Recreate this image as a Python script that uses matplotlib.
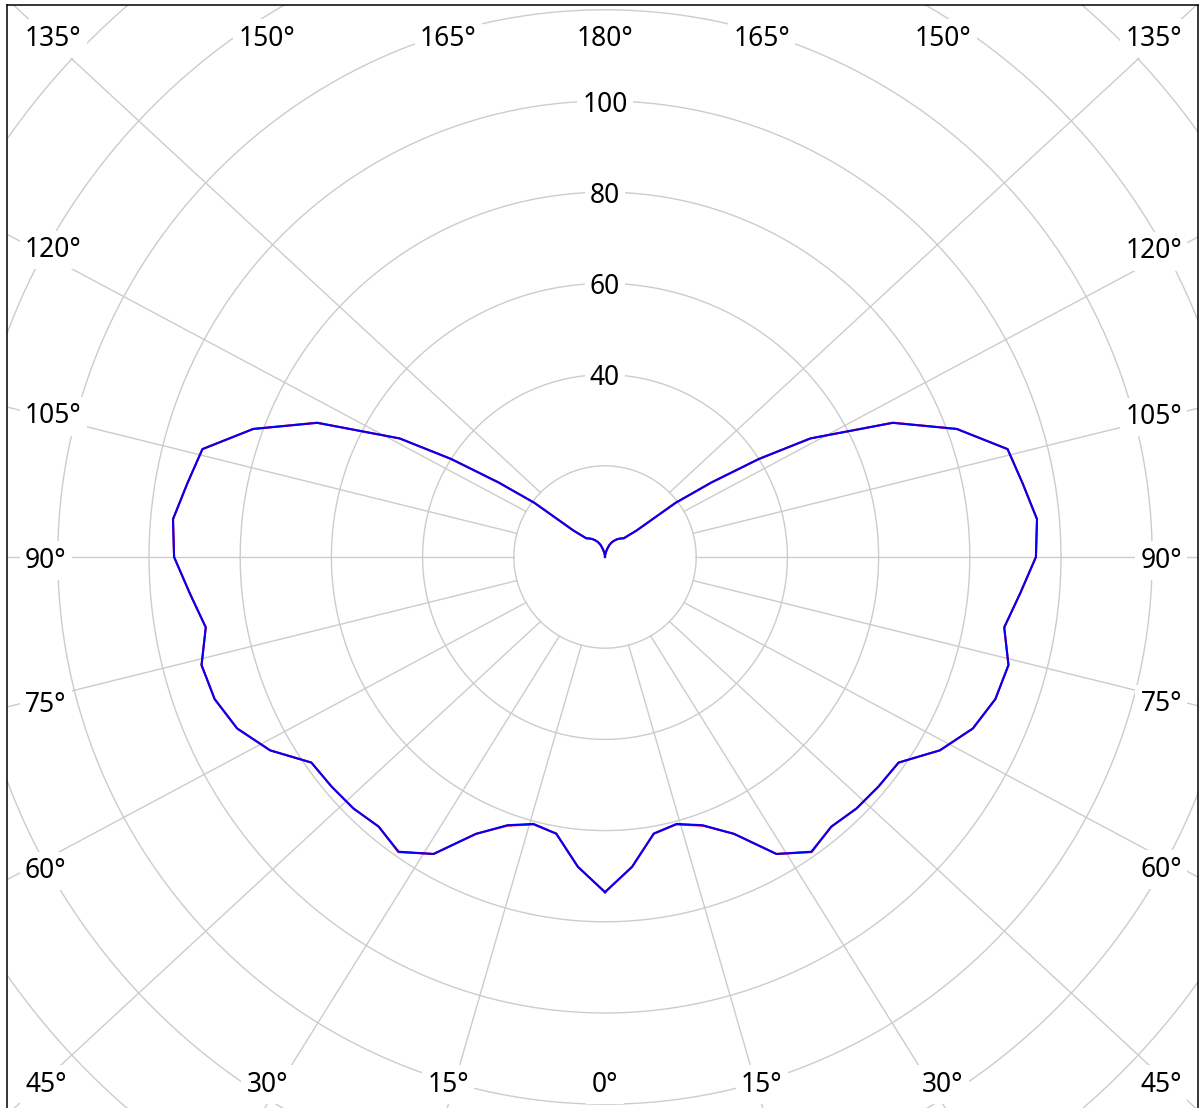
import matplotlib.pyplot as plt
import numpy as np

plt.rcParams['font.family'] = ['Noto Sans', 'DejaVu Sans']

# 配光データ (角度[°], 光度)
gamma = [0, 5, 10, 15, 20, 25, 30, 35, 40, 45, 50, 55, 60, 65, 70, 75, 80, 85, 90,
         95, 100, 105, 110, 115, 120, 122.5, 125, 127.5, 130, 135, 140, 145, 150,
         155, 160, 165, 170, 175, 180]
cd_c0 = [73.5, 68.2, 61.6, 60.7, 62.7, 67.0, 75.2, 79.0, 77.2, 78.0, 78.3, 78.6, 84.8,
         89.0, 91.1, 91.6, 88.9, 91.4, 94.5, 95.1, 93.0, 91.4, 82.1, 69.7, 52.0, 40.0,
         28.5, 19.5, 9.0, 5.8, 5.3, 4.8, 4.2, 3.6, 2.8, 1.8, 1.0, 0.4, 0.0]
cd_c90 = [73.5, 68.2, 61.6, 60.6, 62.6, 67.0, 75.2, 78.9, 77.2, 78.0, 78.3, 78.6, 84.8,
          89.0, 91.1, 91.6, 88.9, 91.4, 94.5, 95.1, 93.0, 91.4, 82.1, 69.6, 52.0, 40.0,
          28.5, 19.5, 9.0, 5.8, 5.3, 4.8, 4.2, 3.6, 2.8, 1.8, 1.0, 0.4, 0.0]

ring_values = [20, 40, 60, 80, 100, 120, 140, 160, 180]
ring_labels = [40, 60, 80, 100]
spoke_angles = [15, 30, 45, 60, 75, 90, 105, 120, 135]
label_angles = [0, 15, 30, 45, 60, 75, 90, 105, 120, 135, 150, 165, 180]

W, H = 1203, 1108
s = 4.56  # px / 単位
cx, cy = 605, 557
ax_l, ax_r, ax_t, ax_b = 7, 1198, 5, 1110

fig = plt.figure(figsize=(W / 100, H / 100), dpi=100)
ax = fig.add_axes([ax_l / W, 1 - ax_b / H, (ax_r - ax_l) / W, (ax_b - ax_t) / H])
ax.set_xlim(-(cx - ax_l) / s, (ax_r - cx) / s)
ax.set_ylim(-(ax_b - cy) / s, (cy - ax_t) / s)
ax.set_xticks([])
ax.set_yticks([])
for sp in ax.spines.values():
    sp.set_linewidth(1.1)
    sp.set_color('black')

grid_c = '#cccccc'

# 同心円
t = np.linspace(0, 2 * np.pi, 721)
for r in ring_values:
    ax.plot(r * np.cos(t), r * np.sin(t), color=grid_c, lw=1.0, zorder=1)

# 放射線 (軸の縦横比で伸ばした方向へ)
Wa, Ha = ax_r - ax_l, ax_b - ax_t
for a in spoke_angles:
    th = np.radians(a)
    for side in (-1, 1):
        x0, y0 = side * 20 * np.sin(th), -20 * np.cos(th)
        x1 = side * 2 * np.sin(th) * Wa / s
        y1 = -2 * np.cos(th) * Ha / s
        ax.plot([x0, x1], [y0, y1], color=grid_c, lw=1.0, zorder=1)

# 配光曲線
for vals, col in ((cd_c0, 'red'), (cd_c90, 'blue')):
    th = np.radians(gamma)
    v = np.array(vals)
    ax.plot(-v * np.sin(th), -v * np.cos(th), color=col, lw=1.5, zorder=3)
    ax.plot(v * np.sin(th), -v * np.cos(th), color=col, lw=1.5, zorder=3)

box = dict(boxstyle='square,pad=0.2', fc='white', ec='none')
fs = 19

# 光度ラベル
for r in ring_labels:
    ax.text(0, r, str(r), ha='center', va='center_baseline', fontsize=fs,
            bbox=box, zorder=5)

# 角度ラベル
left_e, right_e, top_e, bot_e = 580, 577, 543, 543
top_row, bot_row = -522, 524
for a in label_angles:
    th = np.radians(a)
    for side in ((-1, 1) if 0 < a < 180 else (1,)):
        dx = side * np.sin(th) * Wa
        dy = np.cos(th) * Ha
        tx = (right_e if dx > 0 else left_e) / abs(dx) if abs(dx) > 1e-9 else np.inf
        ty = (bot_e if dy > 0 else top_e) / abs(dy) if abs(dy) > 1e-9 else np.inf
        if tx < ty:
            px = right_e if dx > 0 else -left_e
            py = min(max(dy * tx, top_row), bot_row)
            ha = 'right' if dx > 0 else 'left'
        else:
            px = dx * ty
            py = bot_row if dy > 0 else top_row
            ha = 'center'
        ax.text(px / s, -py / s, f'{a}°', ha=ha, va='center_baseline', fontsize=fs,
                bbox=box, zorder=5)

fig.savefig('out.png', dpi=100)
